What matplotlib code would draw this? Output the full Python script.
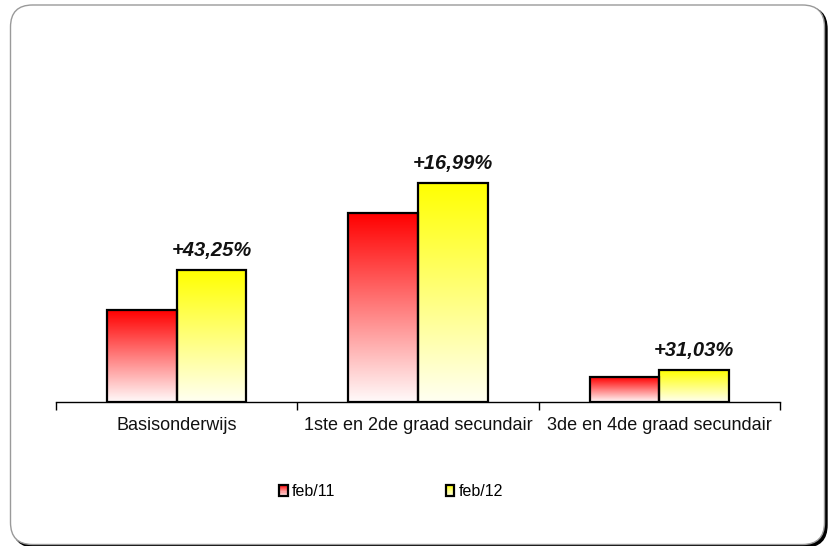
import numpy as np
import matplotlib
matplotlib.use("Agg")
import matplotlib.pyplot as plt
from matplotlib.patches import Rectangle, FancyBboxPatch
from matplotlib.legend_handler import HandlerBase
from matplotlib.transforms import IdentityTransform
from matplotlib.colors import to_rgb

plt.rcParams['font.family'] = ['Liberation Sans', 'DejaVu Sans']

categories = ["Basisonderwijs", "1ste en 2de graad secundair", "3de en 4de graad secundair"]
series_names = ["feb/11", "feb/12"]
feb11 = [92, 189, 25]
feb12 = [132, 219.5, 32]
growth_labels = ["+43,25%", "+16,99%", "+31,03%"]

top_colors = ["#FF0000", "#FFFF00"]
bottom_colors = ["#FFFAFA", "#FFFFF2"]

W, H = 833, 546
fig = plt.figure(figsize=(W / 100, H / 100), dpi=100)

# rounded frame with shadow
shadow = FancyBboxPatch((13, -1), 814, 540, boxstyle="round,pad=0,rounding_size=22",
                        transform=IdentityTransform(), facecolor="black", edgecolor="black", zorder=-2)
frame = FancyBboxPatch((10.5, 1.5), 814, 539.5, boxstyle="round,pad=0,rounding_size=22",
                       transform=IdentityTransform(), facecolor="white", edgecolor="#9a9a9a",
                       linewidth=1, zorder=-1)
fig.patches.extend([shadow, frame])

ax = fig.add_axes([56 / W, (H - 402) / H, (780 - 56) / W, (402 - 40) / H])
ax.set_facecolor("none")
ax.set_xlim(-0.5, 2.5)
ax.set_ylim(0, 362)


def gradient(top, bottom, n=256):
    t = to_rgb(top)
    b = to_rgb(bottom)
    f = np.linspace(0, 1, n)[:, None]  # 0 at top row
    arr = np.array(t)[None, :] * (1 - f) + np.array(b)[None, :] * f
    return arr[:, None, :]


bw = 0.288
x = np.arange(len(categories))
for si, vals in enumerate([feb11, feb12]):
    offs = (-bw / 2) if si == 0 else (bw / 2)
    bars = ax.bar(x + offs, vals, width=bw, facecolor="none", edgecolor="black",
                  linewidth=1.6, zorder=3)
    for rect in bars:
        x0, y0 = rect.get_x(), rect.get_y()
        w, h = rect.get_width(), rect.get_height()
        im = ax.imshow(gradient(top_colors[si], bottom_colors[si]), extent=[x0, x0 + w, y0, y0 + h],
                       aspect="auto", origin="upper", zorder=2, interpolation="bilinear")
        clip = Rectangle((x0, y0), w, h, transform=ax.transData)
        im.set_clip_path(clip)

for i, lab in enumerate(growth_labels):
    ax.annotate(lab, xy=(x[i] + bw / 2, feb12[i]), xytext=(0, 10), textcoords="offset points",
                ha="center", va="baseline", fontsize=14.5, fontweight="bold", fontstyle="italic",
                color="#111111")

ax.set_xlim(-0.5, 2.5)
ax.set_ylim(0, 362)
for s in ["top", "right", "left"]:
    ax.spines[s].set_visible(False)
ax.spines["bottom"].set_linewidth(1)
ax.set_yticks([])
ax.set_xticks(x)
ax.set_xticklabels(categories, fontsize=13, color="#111111")
ax.tick_params(axis="x", which="major", length=0, pad=11)
ax.set_xticks([-0.5, 0.5, 1.5, 2.5], minor=True)
ax.tick_params(axis="x", which="minor", length=6, width=1, direction="out")


class GradHandler(HandlerBase):
    def __init__(self, top, bottom):
        super().__init__()
        self.top = to_rgb(top)
        self.bottom = to_rgb(bottom)

    def create_artists(self, legend, orig_handle, xdescent, ydescent, width, height, fontsize, trans):
        n = 10
        arts = []
        for k in range(n):
            f = (k + 0.5) / n  # 0 bottom -> 1 top
            c = np.array(self.bottom) * (1 - f) + np.array(self.top) * f
            arts.append(Rectangle((-xdescent, -ydescent + k * height / n), width, height / n,
                                  facecolor=c, edgecolor="none", transform=trans))
        arts.append(Rectangle((-xdescent, -ydescent), width, height, fill=False,
                              edgecolor="black", linewidth=1.6, transform=trans))
        return arts


h1 = Rectangle((0, 0), 1, 1)
h2 = Rectangle((0, 0), 1, 1)
fig.legend([h1, h2], series_names, loc="center",
           bbox_to_anchor=(391 / W, (H - 491.5) / H), ncol=2, frameon=False,
           fontsize=11.5, handlelength=0.55, handleheight=0.65, handletextpad=0.25,
           columnspacing=6.9,
           handler_map={h1: GradHandler(top_colors[0], bottom_colors[0]),
                        h2: GradHandler(top_colors[1], bottom_colors[1])})

fig.savefig("out.png", dpi=100)
